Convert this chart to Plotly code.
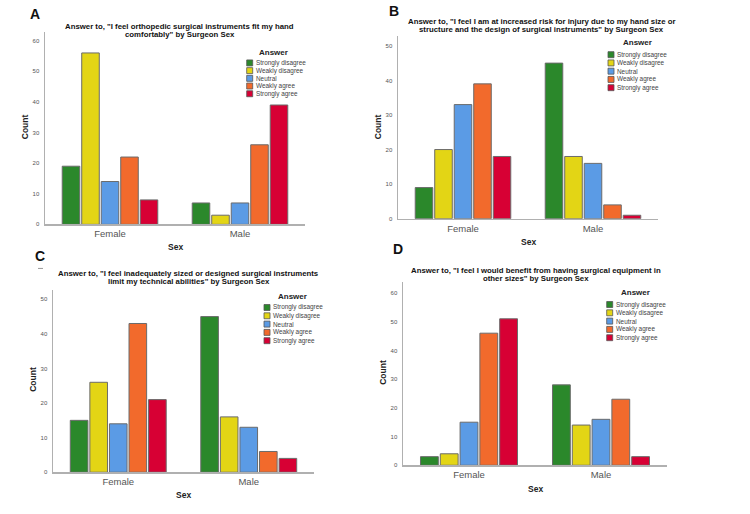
import plotly.graph_objects as go

# ---------------- data ----------------
answers = ["Strongly disagree", "Weakly disagree", "Neutral", "Weakly agree", "Strongly agree"]
sexes = ["Female", "Male"]
colors = ["#2b882b", "#e3d515", "#5b9be5", "#f26a2c", "#d70034"]

a_female = [19, 56, 14, 22, 8]
a_male = [7, 3, 7, 26, 39]
b_female = [9, 20, 33, 39, 18]
b_male = [45, 18, 16, 4, 1]
c_female = [15, 26, 14, 43, 21]
c_male = [45, 16, 13, 6, 4]
d_female = [3, 4, 15, 46, 51]
d_male = [28, 14, 16, 23, 3]

a_title = ['Answer to, "I feel orthopedic surgical instruments fit my hand',
           'comfortably" by Surgeon Sex']
b_title = ['Answer to, "I feel I am at increased risk for injury due to my hand size or',
           'structure and the design of surgical instruments" by Surgeon Sex']
c_title = ['Answer to, "I feel inadequately sized or designed surgical instruments',
           'limit my technical abilities" by Surgeon Sex']
d_title = ['Answer to, "I feel I would benefit from having surgical equipment in',
           'other sizes" by Surgeon Sex']

a_ticks = [0, 10, 20, 30, 40, 50, 60]
b_ticks = [0, 10, 20, 30, 40, 50]
c_ticks = [0, 10, 20, 30, 40, 50]
d_ticks = [0, 10, 20, 30, 40, 50, 60]

W, H = 750, 514
FONT = "Liberation Sans, Arial, sans-serif"


def px(x):
    return x / W


def py(y):
    return 1 - y / H


panels = [
    dict(ax="", letter="A", letter_pos=(35, 14), female=a_female, male=a_male, title=a_title,
         title_x=179.5, title_y=(26.7, 34.7), xdom=(45, 305), ydom=(31.7, 225.7), ymax=63,
         ticks=a_ticks, count=(25, 128), sex=(175, 248), leg_title=(273, 53),
         leg_x=246.7, leg_y0=63.3, leg_step=7.75),
    dict(ax="2", letter="B", letter_pos=(394, 11), female=b_female, male=b_male, title=b_title,
         title_x=541.5, title_y=(21.7, 29.3), xdom=(398, 658), ydom=(36, 220), ymax=52.9,
         ticks=b_ticks, count=(378, 128), sex=(528, 243), leg_title=(637, 43),
         leg_x=608, leg_y0=55, leg_step=8.3),
    dict(ax="3", letter="C", letter_pos=(40, 258), female=c_female, male=c_male, title=c_title,
         title_x=188.5, title_y=(275.3, 283), xdom=(53, 314), ydom=(292, 475), ymax=52.6,
         ticks=c_ticks, count=(33, 382), sex=(183, 498), leg_title=(292, 298),
         leg_x=264, leg_y0=309.3, leg_step=8.35),
    dict(ax="4", letter="D", letter_pos=(398, 250), female=d_female, male=d_male, title=d_title,
         title_x=535.5, title_y=(272, 279.7), xdom=(403, 667), ydom=(284, 468), ymax=63.7,
         ticks=d_ticks, count=(383, 375), sex=(535, 492), leg_title=(635, 294),
         leg_x=606.7, leg_y0=306.3, leg_step=8.35),
]

fig = go.Figure()
annotations = []
shapes = []
layout_axes = {}

for p in panels:
    ax = p["ax"]
    for i, ans in enumerate(answers):
        fig.add_trace(go.Bar(
            x=sexes, y=[p["female"][i], p["male"][i]], name=ans,
            xaxis="x" + ax, yaxis="y" + ax, showlegend=False,
            marker=dict(color=colors[i], line=dict(color="#6b6b6b", width=1)),
        ))
    layout_axes["xaxis" + ax] = dict(
        domain=[px(p["xdom"][0]), px(p["xdom"][1])], anchor="y" + ax,
        showline=True, linecolor="#b0b0b0", linewidth=1.5, showgrid=False, zeroline=False,
        ticks="", tickfont=dict(family=FONT, size=9.5, color="#555555"),
        range=[-0.5, 1.5], fixedrange=True,
    )
    layout_axes["yaxis" + ax] = dict(
        domain=[py(p["ydom"][1]), py(p["ydom"][0])], anchor="x" + ax,
        range=[0, p["ymax"]], tickvals=p["ticks"],
        showline=True, linecolor="#b0b0b0", linewidth=1.5, showgrid=False, zeroline=False,
        ticks="", ticklabelstandoff=3, tickfont=dict(family=FONT, size=6, color="#555555"),
        fixedrange=True,
    )
    # panel letter
    annotations.append(dict(text="<b>%s</b>" % p["letter"], x=px(p["letter_pos"][0]),
                            y=py(p["letter_pos"][1]), xref="paper", yref="paper",
                            showarrow=False, xanchor="center", yanchor="middle",
                            font=dict(family=FONT, size=14, color="#111111")))
    # title lines
    for line, yy in zip(p["title"], p["title_y"]):
        annotations.append(dict(text="<b>%s</b>" % line, x=px(p["title_x"]), y=py(yy),
                                xref="paper", yref="paper", showarrow=False,
                                xanchor="center", yanchor="middle",
                                font=dict(family=FONT, size=7.8, color="#111111")))
    # axis titles
    annotations.append(dict(text="<b>Count</b>", x=px(p["count"][0]), y=py(p["count"][1]),
                            xref="paper", yref="paper", showarrow=False, textangle=-90,
                            xanchor="center", yanchor="middle",
                            font=dict(family=FONT, size=8.5, color="#222222")))
    annotations.append(dict(text="<b>Sex</b>", x=px(p["sex"][0]), y=py(p["sex"][1]),
                            xref="paper", yref="paper", showarrow=False,
                            xanchor="center", yanchor="middle",
                            font=dict(family=FONT, size=8.5, color="#222222")))
    # legend
    annotations.append(dict(text="<b>Answer</b>", x=px(p["leg_title"][0]), y=py(p["leg_title"][1]),
                            xref="paper", yref="paper", showarrow=False,
                            xanchor="center", yanchor="middle",
                            font=dict(family=FONT, size=8, color="#222222")))
    for i, ans in enumerate(answers):
        cy = p["leg_y0"] + i * p["leg_step"]
        x0 = p["leg_x"]
        shapes.append(dict(type="rect", xref="paper", yref="paper",
                           x0=px(x0), x1=px(x0 + 6), y0=py(cy + 3), y1=py(cy - 3),
                           fillcolor=colors[i], line=dict(color="#555555", width=0.8)))
        annotations.append(dict(text=ans, x=px(x0 + 7), y=py(cy), xref="paper", yref="paper",
                                showarrow=False, xanchor="left", yanchor="middle",
                                font=dict(family=FONT, size=6.4, color="#444444")))

# small artifact under panel letter C
shapes.append(dict(type="line", xref="paper", yref="paper", x0=px(38), x1=px(43),
                   y0=py(270), y1=py(270), line=dict(color="#999999", width=1)))

fig.update_layout(
    width=W, height=H, autosize=False,
    margin=dict(l=0, r=0, t=0, b=0),
    paper_bgcolor="white", plot_bgcolor="white",
    barmode="group", bargap=0.25, bargroupgap=0.1,
    showlegend=False, hovermode=False,
    annotations=annotations, shapes=shapes,
    font=dict(family=FONT),
    **layout_axes,
)

# remove the browser's default 8px body margin so the figure fills the window
fig.write_html("out.html", config={"displayModeBar": False, "staticPlot": True},
               post_script="document.body.style.margin='0';")
